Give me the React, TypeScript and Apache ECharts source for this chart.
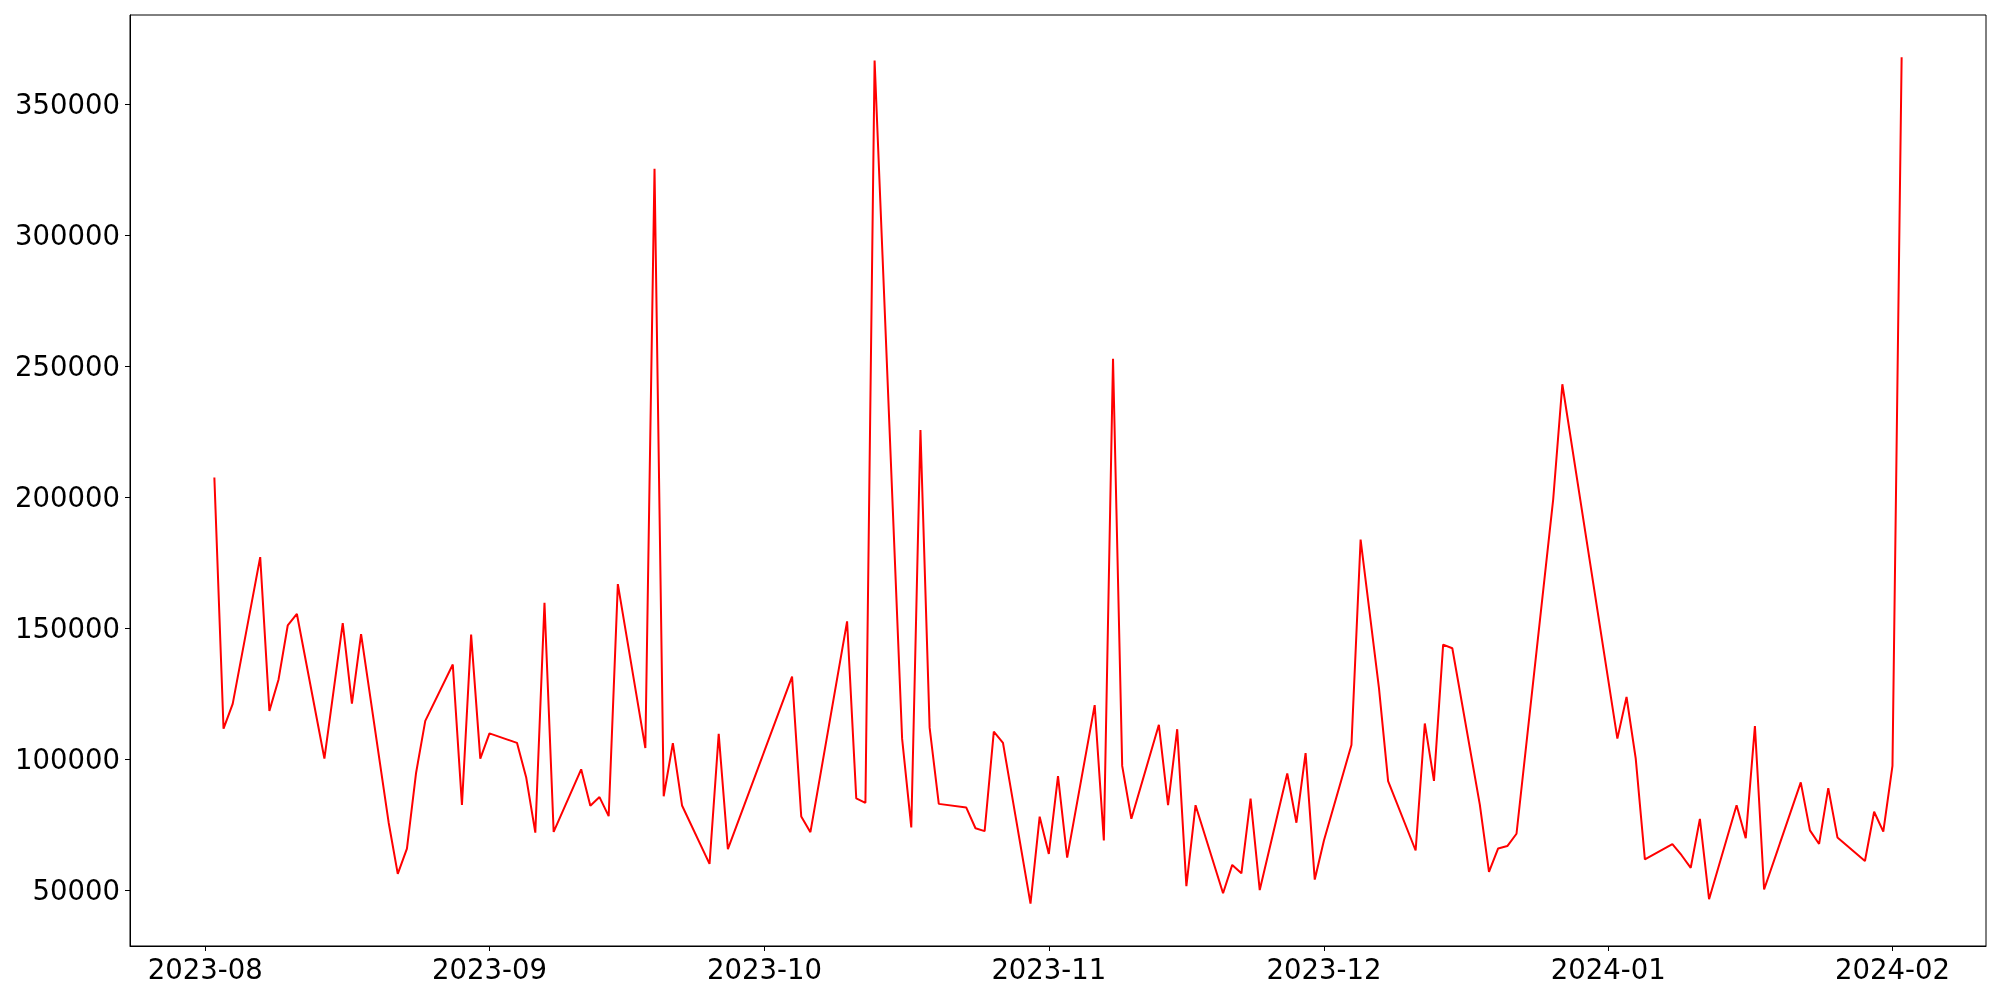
import React, { useEffect, useRef } from "react";
import * as echarts from "echarts";

const dates: string[] = [
  "2023-08-02", "2023-08-03", "2023-08-04", "2023-08-07", "2023-08-08", "2023-08-09", "2023-08-10", "2023-08-11",
  "2023-08-14", "2023-08-16", "2023-08-17", "2023-08-18", "2023-08-21", "2023-08-22", "2023-08-23", "2023-08-24",
  "2023-08-25", "2023-08-28", "2023-08-29", "2023-08-30", "2023-08-31", "2023-09-01", "2023-09-04", "2023-09-05",
  "2023-09-06", "2023-09-07", "2023-09-08", "2023-09-11", "2023-09-12", "2023-09-13", "2023-09-14", "2023-09-15",
  "2023-09-18", "2023-09-19", "2023-09-20", "2023-09-21", "2023-09-22", "2023-09-25", "2023-09-26", "2023-09-27",
  "2023-10-04", "2023-10-05", "2023-10-06", "2023-10-10", "2023-10-11", "2023-10-12", "2023-10-13", "2023-10-16",
  "2023-10-17", "2023-10-18", "2023-10-19", "2023-10-20", "2023-10-23", "2023-10-24", "2023-10-25", "2023-10-26",
  "2023-10-27", "2023-10-30", "2023-10-31", "2023-11-01", "2023-11-02", "2023-11-03", "2023-11-06", "2023-11-07",
  "2023-11-08", "2023-11-09", "2023-11-10", "2023-11-13", "2023-11-14", "2023-11-15", "2023-11-16", "2023-11-17",
  "2023-11-20", "2023-11-21", "2023-11-22", "2023-11-23", "2023-11-24", "2023-11-27", "2023-11-28", "2023-11-29",
  "2023-11-30", "2023-12-01", "2023-12-04", "2023-12-05", "2023-12-07", "2023-12-08", "2023-12-11", "2023-12-12",
  "2023-12-13", "2023-12-14", "2023-12-15", "2023-12-18", "2023-12-19", "2023-12-20", "2023-12-21", "2023-12-22",
  "2023-12-26", "2023-12-27", "2024-01-02", "2024-01-03", "2024-01-04", "2024-01-05", "2024-01-08", "2024-01-09",
  "2024-01-10", "2024-01-11", "2024-01-12", "2024-01-15", "2024-01-16", "2024-01-17", "2024-01-18", "2024-01-22",
  "2024-01-23", "2024-01-24", "2024-01-25", "2024-01-26", "2024-01-29", "2024-01-30", "2024-01-31", "2024-02-01",
  "2024-02-02",
];

const values: number[] = [
  207400, 111500, 121000, 177000, 118300, 130300, 150900, 155300,
  100100, 151800, 121100, 147600, 75800, 56100, 65700, 94700,
  114500, 136000, 82400, 147400, 100100, 109700, 106100, 93000,
  71800, 159600, 72100, 96000, 82100, 85400, 78100, 166700,
  104100, 325300, 85700, 106000, 82200, 59900, 109500, 65500,
  131400, 78000, 72000, 152500, 84900, 83200, 366600, 107700,
  73800, 225500, 111900, 82800, 81400, 73500, 72400, 110400,
  106100, 44700, 77900, 63700, 93400, 62300, 120500, 68800,
  252700, 97300, 77100, 113000, 82300, 111300, 51400, 82300,
  48700, 59500, 56300, 84800, 49900, 94400, 75600, 102200,
  53900, 68800, 105300, 183700, 127100, 91500, 65000, 113500,
  91600, 143600, 142200, 82500, 56800, 65800, 66700, 71400,
  199000, 243000, 107700, 123600, 100200, 61600, 67400, 63200,
  58400, 77100, 46400, 82300, 69700, 112500, 50100, 91000,
  72700, 67500, 88800, 70000, 61000, 79800, 72200, 97300,
  367800,
];

const xTickLabels: string[] = ["2023-08", "2023-09", "2023-10", "2023-11", "2023-12", "2024-01", "2024-02"];
const yTicks: number[] = [50000, 100000, 150000, 200000, 250000, 300000, 350000];

function toTs(s: string): number {
  const p = s.split("-").map(Number);
  return new Date(p[0], p[1] - 1, p[2] || 1).getTime();
}

export default function App() {
  const ref = useRef<HTMLDivElement>(null);
  useEffect(() => {
    if (!ref.current) return;
    const chart = echarts.init(ref.current, null, { renderer: "svg" });
    const xs = dates.map(toTs);
    const x0 = xs[0];
    const x1 = xs[xs.length - 1];
    const xpad = (x1 - x0) * 0.05;
    const vmin = Math.min(...values);
    const vmax = Math.max(...values);
    const ypad = (vmax - vmin) * 0.05;
    const monthTs = xTickLabels.map(toTs);
    const font = { fontFamily: "DejaVu Sans", fontSize: 27.5, color: "#000" };
    const axisLine = { show: true, onZero: false, lineStyle: { color: "#000", width: 1 } };
    chart.setOption({
      animation: false,
      grid: {
        left: 130,
        right: 14,
        top: 15,
        bottom: 54,
        show: true,
        borderColor: "#000",
        borderWidth: 1,
        backgroundColor: "transparent",
      },
      xAxis: {
        type: "value",
        min: x0 - xpad,
        max: x1 + xpad,
        splitLine: { show: false },
        axisLine,
        axisTick: { show: true, length: 5, inside: false, customValues: monthTs, lineStyle: { color: "#000", width: 1 } },
        axisLabel: {
          ...font,
          margin: 9,
          customValues: monthTs,
          formatter: (v: number) => {
            const d = new Date(v);
            return `${d.getFullYear()}-${String(d.getMonth() + 1).padStart(2, "0")}`;
          },
        },
      },
      yAxis: {
        type: "value",
        min: vmin - ypad,
        max: vmax + ypad,
        splitLine: { show: false },
        axisLine,
        axisTick: { show: true, length: 5, inside: false, customValues: yTicks, lineStyle: { color: "#000", width: 1 } },
        axisLabel: {
          ...font,
          margin: 10,
          customValues: yTicks,
          formatter: (v: number) => String(v),
        },
      },
      series: [
        {
          type: "line",
          data: xs.map((x, i) => [x, values[i]]),
          symbol: "none",
          showSymbol: false,
          lineStyle: { color: "#ff0000", width: 2 },
          itemStyle: { color: "#ff0000" },
        },
      ],
    });
    return () => chart.dispose();
  }, []);
  return <div ref={ref} style={{ position: "fixed", left: 0, top: 0, width: 2000, height: 1000 }} />;
}
